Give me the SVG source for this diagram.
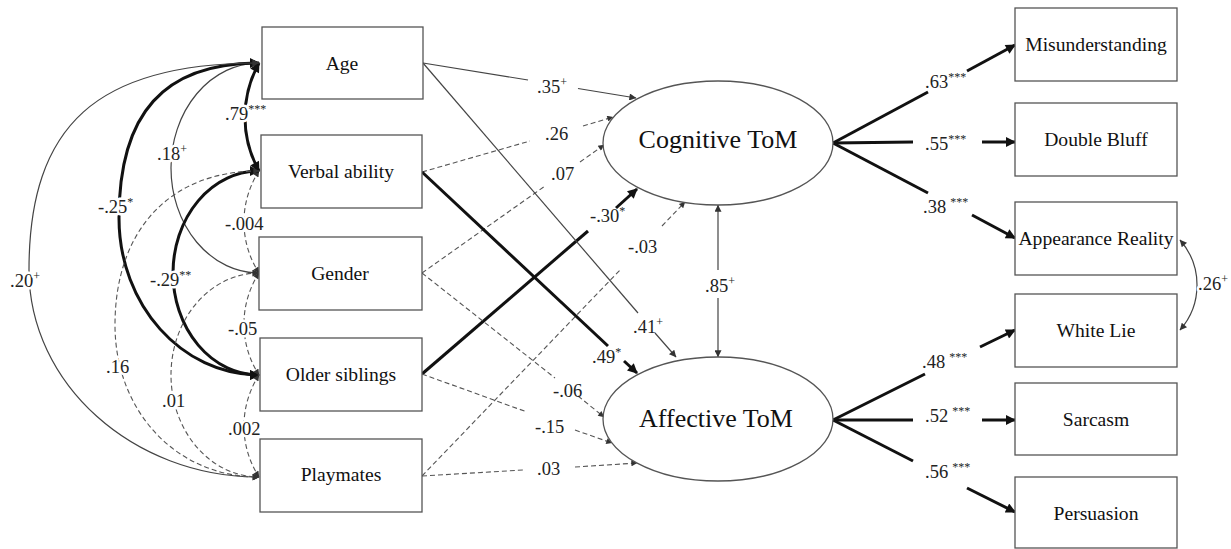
<svg xmlns="http://www.w3.org/2000/svg" width="1231" height="549" viewBox="0 0 1231 549">
<style>
text{font-family:"Liberation Serif","Times New Roman",serif}
.box{fill:#fff;stroke:#555;stroke-width:1.3}
.lbl{font-size:19.6px;fill:#111;text-anchor:middle}
.big{font-size:26px}
.coef{font-size:18.5px;fill:#222}
.sup{font-size:12px}
.halo{stroke:#fff;stroke-width:5px;paint-order:stroke;stroke-linejoin:round}
.thin{fill:none;stroke:#444;stroke-width:1.2}
.thick{fill:none;stroke:#111;stroke-width:3}
.dash{fill:none;stroke:#555;stroke-width:1.1;stroke-dasharray:5 3}
</style>
<defs>
<marker id="ah" viewBox="0 0 10 10" refX="9.5" refY="5" markerUnits="userSpaceOnUse" markerWidth="9" markerHeight="7" orient="auto-start-reverse"><path d="M0,0 L10,5 L0,10 z" fill="#333"/></marker>
<marker id="ahb" viewBox="0 0 10 10" refX="9" refY="5" markerUnits="userSpaceOnUse" markerWidth="13" markerHeight="10" orient="auto-start-reverse"><path d="M0,0 L10,5 L0,10 z" fill="#111"/></marker>
<marker id="ahs" viewBox="0 0 10 10" refX="9.5" refY="5" markerUnits="userSpaceOnUse" markerWidth="8" markerHeight="6" orient="auto-start-reverse"><path d="M0,0 L10,5 L0,10 z" fill="#333"/></marker>
</defs>

<g id="connectors">
<path class="thick" d="M259,63 A111,111 0 0 0 259,171" marker-start="url(#ahb)" marker-end="url(#ahb)"/>
<path class="thin" d="M259,63 A88,105 0 0 0 259,273" marker-start="url(#ah)" marker-end="url(#ah)"/>
<path class="thick" d="M259,63 C164,63 119,113 119,218 C119,305 182,375 259,375" marker-start="url(#ahb)" marker-end="url(#ahb)"/>
<path class="thin" d="M259,63 C97,63 29,125 29,270 C29,384 133,477 259,477" marker-start="url(#ah)" marker-end="url(#ah)"/>
<path class="dash" d="M259,171 A94,94 0 0 0 259,273" marker-start="url(#ahs)" marker-end="url(#ahs)"/>
<path class="thick" d="M259,171 A86,102 0 0 0 259,375" marker-start="url(#ahb)" marker-end="url(#ahb)"/>
<path class="dash" d="M259,171 C170,171 115,230 115,325 C115,410 175,477 259,477" marker-start="url(#ahs)" marker-end="url(#ahs)"/>
<path class="dash" d="M259,273 A94,94 0 0 0 259,375" marker-start="url(#ahs)" marker-end="url(#ahs)"/>
<path class="dash" d="M259,273 A88,102 0 0 0 259,477" marker-start="url(#ahs)" marker-end="url(#ahs)"/>
<path class="dash" d="M259,375 A94,94 0 0 0 259,477" marker-start="url(#ahs)" marker-end="url(#ahs)"/>

<path class="thin" d="M423,63 L528,80"/><path class="thin" d="M578,88.5 L636,98" marker-end="url(#ah)"/>
<path class="dash" d="M422,172 L530,141"/><path class="dash" d="M583,126 L613,117" marker-end="url(#ahs)"/>
<path class="dash" d="M422,273 L545,186"/><path class="dash" d="M580,162 L604,145" marker-end="url(#ahs)"/>
<path class="thick" d="M422,374 L588,231"/><path class="thick" d="M616,208 L637,189" marker-end="url(#ahb)"/>
<path class="dash" d="M422,476 L620,270"/><path class="dash" d="M662,226 L685,202" marker-end="url(#ahs)"/>
<path class="thick" d="M422,172 L608,346"/><path class="thick" d="M624,361 L637,373" marker-end="url(#ahb)"/>
<path class="thin" d="M423,63 L638,313"/><path class="thin" d="M655,333 L676,357" marker-end="url(#ah)"/>
<path class="dash" d="M422,273 L555,378"/><path class="dash" d="M578,396 L604,417" marker-end="url(#ahs)"/>
<path class="dash" d="M422,374 L527,412"/><path class="dash" d="M575,430 L612,443" marker-end="url(#ahs)"/>
<path class="dash" d="M422,476 L523,470"/><path class="dash" d="M575,467 L637,463" marker-end="url(#ahs)"/>
<path class="thin" d="M718,270 L718,205" marker-end="url(#ah)"/><path class="thin" d="M718,298 L718,357" marker-end="url(#ah)"/>

<path class="thick" d="M833,143 L928,92"/><path class="thick" d="M967,71 L1015,45" marker-end="url(#ahb)"/>
<path class="thick" d="M833,143 L913,142"/><path class="thick" d="M982,142 L1015,142" marker-end="url(#ahb)"/>
<path class="thick" d="M833,143 L928,193"/><path class="thick" d="M972,215 L1015,238" marker-end="url(#ahb)"/>
<path class="thick" d="M833,420 L925,374"/><path class="thick" d="M980,347 L1015,330" marker-end="url(#ahb)"/>
<path class="thick" d="M833,420 L913,420"/><path class="thick" d="M982,420 L1015,420" marker-end="url(#ahb)"/>
<path class="thick" d="M833,420 L913,461"/><path class="thick" d="M967,488 L1015,512" marker-end="url(#ahb)"/>
<path class="thin" d="M1180,240 A68,68 0 0 1 1180,330" marker-start="url(#ah)" marker-end="url(#ah)"/>
</g>

<g id="node-age"><rect class="box" x="262" y="27" width="161" height="72"/><text class="lbl" x="342" y="70">Age</text></g>
<g id="node-verbal"><rect class="box" x="261" y="135" width="161" height="73"/><text class="lbl" x="341" y="178">Verbal ability</text></g>
<g id="node-gender"><rect class="box" x="259" y="237" width="163" height="73"/><text class="lbl" x="340" y="280">Gender</text></g>
<g id="node-older"><rect class="box" x="260" y="338" width="162" height="73"/><text class="lbl" x="341" y="381">Older siblings</text></g>
<g id="node-playmates"><rect class="box" x="260" y="439" width="162" height="73"/><text class="lbl" x="341" y="481">Playmates</text></g>

<g id="node-cognitive"><ellipse class="box" cx="718" cy="143" rx="115" ry="62"/><text class="lbl big" x="718" y="148">Cognitive ToM</text></g>
<g id="node-affective"><ellipse class="box" cx="718" cy="419" rx="115" ry="62"/><text class="lbl big" x="716" y="427">Affective ToM</text></g>

<g id="node-misunderstanding"><rect class="box" x="1015" y="8" width="162" height="73"/><text class="lbl" x="1096" y="51">Misunderstanding</text></g>
<g id="node-doublebluff"><rect class="box" x="1015" y="103" width="162" height="73"/><text class="lbl" x="1096" y="146">Double Bluff</text></g>
<g id="node-appearance"><rect class="box" x="1015" y="202" width="162" height="73"/><text class="lbl" x="1096" y="245">Appearance Reality</text></g>
<g id="node-whitelie"><rect class="box" x="1015" y="294" width="162" height="73"/><text class="lbl" x="1096" y="337">White Lie</text></g>
<g id="node-sarcasm"><rect class="box" x="1015" y="383" width="162" height="72"/><text class="lbl" x="1096" y="426">Sarcasm</text></g>
<g id="node-persuasion"><rect class="box" x="1015" y="477" width="162" height="71"/><text class="lbl" x="1096" y="520">Persuasion</text></g>

<g id="labels">
<text class="coef halo" x="225" y="120">.79<tspan class="sup" dy="-7">***</tspan></text>
<text class="coef halo" x="157" y="160">.18<tspan class="sup" dy="-7">+</tspan></text>
<text class="coef halo" x="98" y="213">-.25<tspan class="sup" dy="-7">*</tspan></text>
<text class="coef halo" x="10" y="287">.20<tspan class="sup" dy="-7">+</tspan></text>
<text class="coef halo" x="225" y="230">-.004</text>
<text class="coef halo" x="150" y="286">-.29<tspan class="sup" dy="-7">**</tspan></text>
<text class="coef halo" x="106" y="373">.16</text>
<text class="coef halo" x="228" y="335">-.05</text>
<text class="coef halo" x="162" y="407">.01</text>
<text class="coef halo" x="228" y="435">.002</text>
<text class="coef halo" x="1198" y="290">.26<tspan class="sup" dy="-7">+</tspan></text>

<text class="coef" x="537" y="93">.35<tspan class="sup" dy="-7">+</tspan></text>
<text class="coef" x="545" y="140">.26</text>
<text class="coef" x="551" y="180">.07</text>
<text class="coef" x="590" y="222">-.30<tspan class="sup" dy="-7">*</tspan></text>
<text class="coef" x="628" y="253">-.03</text>
<text class="coef" x="633" y="333">.41<tspan class="sup" dy="-7">+</tspan></text>
<text class="coef" x="592" y="363">.49<tspan class="sup" dy="-7">*</tspan></text>
<text class="coef" x="553" y="397">-.06</text>
<text class="coef" x="535" y="433">-.15</text>
<text class="coef" x="537" y="475">.03</text>
<text class="coef" x="705" y="292">.85<tspan class="sup" dy="-7">+</tspan></text>

<text class="coef" x="925" y="88">.63<tspan class="sup" dy="-7">***</tspan></text>
<text class="coef" x="925" y="150">.55<tspan class="sup" dy="-7">***</tspan></text>
<text class="coef" x="923" y="213">.38<tspan class="sup" dx="4" dy="-7">***</tspan></text>
<text class="coef" x="922" y="368">.48<tspan class="sup" dx="4" dy="-7">***</tspan></text>
<text class="coef" x="925" y="422">.52<tspan class="sup" dx="4" dy="-7">***</tspan></text>
<text class="coef" x="925" y="478">.56<tspan class="sup" dx="4" dy="-7">***</tspan></text>
</g>
</svg>
